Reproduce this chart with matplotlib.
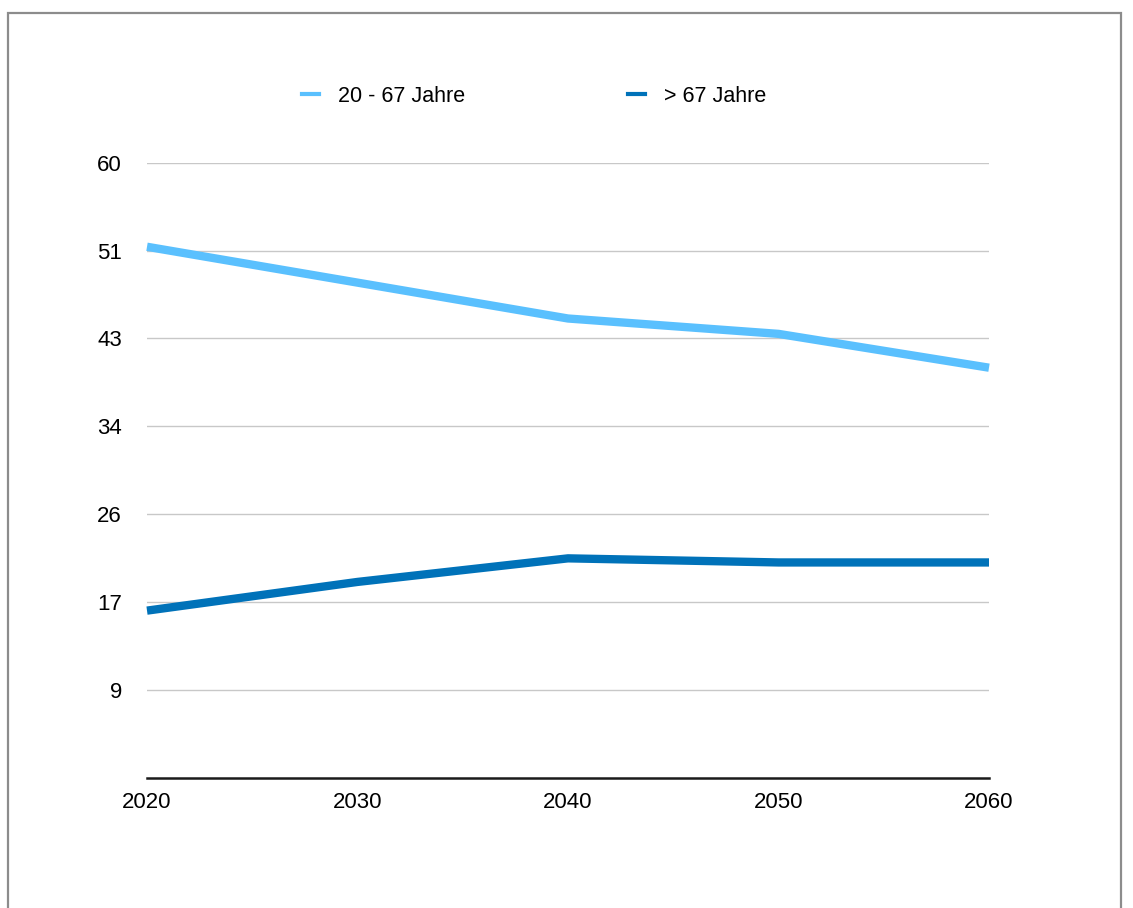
import matplotlib.pyplot as plt
from matplotlib.lines import Line2D
from matplotlib.patches import Rectangle
from matplotlib.ticker import FuncFormatter

plt.rcParams['font.family'] = ['Liberation Sans', 'DejaVu Sans']

# data
years = [2020, 2030, 2040, 2050, 2060]
working_age = [51.8, 48.3, 44.8, 43.3, 40.0]   # 20 - 67 Jahre
seniors = [16.3, 19.1, 21.4, 21.0, 21.0]       # > 67 Jahre
series_labels = ["20 - 67 Jahre", "> 67 Jahre"]

y_max = 60
n_steps = 7

light = "#5ac0fe"
dark = "#0072b9"

fig = plt.figure(figsize=(11.33, 9.08), dpi=100)
ax = fig.add_axes([147 / 1133, 1 - 777.7 / 908, (989 - 147) / 1133, (777.7 - 162.7) / 908])

# grey frame around the whole chart
fig.patches.append(Rectangle((8 / 1133, -0.05), (1121 - 8) / 1133, 1.05 - 12.5 / 908,
                             transform=fig.transFigure, fill=False, edgecolor="#8c8c8c",
                             lw=1.6, zorder=0))

yticks = [y_max / n_steps * i for i in range(1, n_steps + 1)]
ax.set_yticks(yticks)
ax.yaxis.set_major_formatter(FuncFormatter(lambda v, p: f"{v:.0f}"))
ax.set_xticks(years)
ax.set_xlim(years[0], years[-1])
ax.set_ylim(0, y_max)

ax.grid(axis="y", color="#c8c8c8", lw=1.0)
ax.set_axisbelow(True)
for side in ["top", "right", "left"]:
    ax.spines[side].set_visible(False)
ax.spines["bottom"].set_color("#1a1a1a")
ax.spines["bottom"].set_linewidth(1.8)
ax.tick_params(axis="y", length=0, pad=18, labelsize=16)
ax.tick_params(axis="x", length=0, pad=10, labelsize=16)

ax.plot(years, working_age, color=light, lw=6, solid_capstyle="butt", clip_on=False, zorder=3)
ax.plot(years, seniors, color=dark, lw=6, solid_capstyle="butt", clip_on=False, zorder=3)

handles = [Line2D([], [], color=light, lw=3), Line2D([], [], color=dark, lw=3)]
fig.legend(handles, series_labels, loc="center left", bbox_to_anchor=(302 / 1133, 1 - 96 / 908),
           ncol=2, frameon=False, fontsize=15.5, handlelength=0.8, handletextpad=0.85,
           columnspacing=7.6, borderpad=0, borderaxespad=0)

fig.savefig("out.png", dpi=100, facecolor="white")
